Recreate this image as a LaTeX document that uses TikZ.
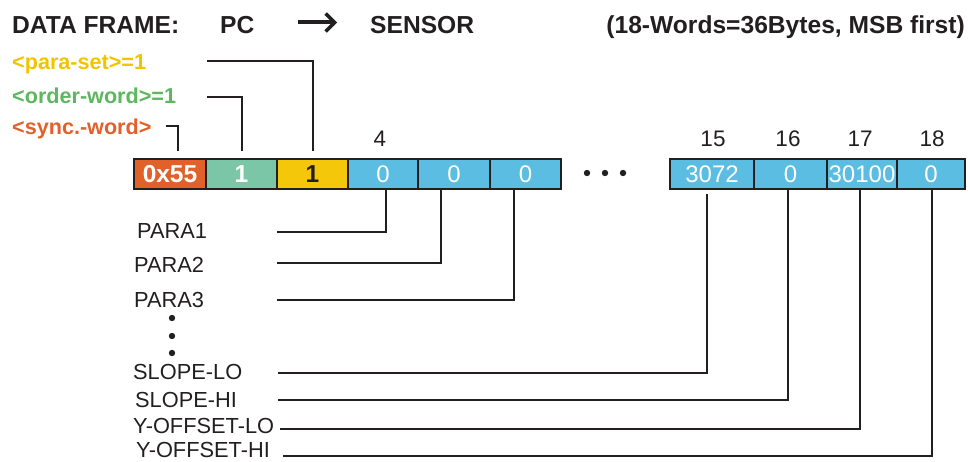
\documentclass[tikz,border=0pt]{standalone}
\usepackage{fontspec}
\setmainfont{Liberation Sans}
\usetikzlibrary{arrows.meta}
\definecolor{txt}{HTML}{231F20}
\definecolor{orgbox}{HTML}{E0622A}
\definecolor{grnbox}{HTML}{7CC6A8}
\definecolor{ylwbox}{HTML}{F5C70A}
\definecolor{blubox}{HTML}{5CBDE3}
\definecolor{ylwtxt}{HTML}{F3C300}
\definecolor{grntxt}{HTML}{5DB75F}
\definecolor{orgtxt}{HTML}{E2612A}
\begin{document}
\begin{tikzpicture}[x=1pt,y=-1pt,
  cell/.style={draw=txt, line width=2.8pt, minimum height=30pt, inner sep=0pt,
    font=\fontsize{24}{24}\selectfont, text=white},
  bluecell/.style={cell, fill=blubox},
  ttl/.style={anchor=base west, inner sep=0pt, text=txt, font=\fontsize{24.6}{24.6}\selectfont\bfseries},
  clab/.style={anchor=base west, inner sep=0pt, font=\fontsize{21.6}{21.6}\selectfont\bfseries},
  plab/.style={anchor=base west, inner sep=0pt, text=txt, font=\fontsize{21.8}{21.8}\selectfont},
  num/.style={anchor=base, inner sep=0pt, text=txt, font=\fontsize{22.5}{22.5}\selectfont},
  conn/.style={draw=txt, line width=1.4pt},
  dotm/.style={fill=txt, draw=none}
]
\useasboundingbox (0,0) rectangle (968,462);

% title
\node[ttl] (t1) at (12,33.3) {DATA FRAME:};
\node[ttl] (t2) at (220,33.3) {PC};
\node[ttl] (t3) at (370,33.3) {SENSOR};
\node[ttl, anchor=base east] (t4) at (965,33.3) {(18-Words=36Bytes, MSB first)};
\coordinate (arA) at (298,22.5);
\coordinate (arB) at (337,22.5);
\draw[txt, line width=4pt, -{Straight Barb[length=9pt,width=18pt,line width=3.4pt]}] (arA) -- (arB);

% coloured labels
\node[clab, text=ylwtxt] (lps) at (12,69.3) {<para-set>=1};
\node[clab, text=grntxt] (low) at (12,103.3) {<order-word>=1};
\node[clab, text=orgtxt] (lsw) at (12,135) {<sync.-word>};

% boxes
\node[cell, fill=orgbox, minimum width=72pt, font=\fontsize{24.5}{24.5}\selectfont\bfseries] (b1) at (170,174) {0x55};
\node[cell, fill=grnbox, minimum width=71pt, font=\fontsize{24.5}{24.5}\selectfont\bfseries] (b2) at (241.5,174) {1};
\node[cell, fill=ylwbox, minimum width=71pt, text=txt, font=\fontsize{24.5}{24.5}\selectfont\bfseries] (b3) at (312.5,174) {1};
\node[bluecell, minimum width=70pt] (b4) at (383,174) {0};
\node[bluecell, minimum width=72pt] (b5) at (454,174) {0};
\node[bluecell, minimum width=71pt] (b6) at (525.5,174) {0};
\node[bluecell, minimum width=84pt] (b15) at (712,174) {3072};
\node[bluecell, minimum width=73pt] (b16) at (790.5,174) {0};
\node[bluecell, minimum width=70pt] (b17) at (862,174) {30100};
\node[bluecell, minimum width=68pt] (b18) at (931,174) {0};

% horizontal dots
\fill[dotm] (587,173) circle (3.2pt) (605,173) circle (3.2pt) (623,173) circle (3.2pt);

% numbers above
\node[num] (n4) at (380,146.7) {4};
\node[num] (n15) at (713,146.7) {15};
\node[num] (n16) at (788,146.7) {16};
\node[num] (n17) at (860,146.7) {17};
\node[num] (n18) at (932,146.7) {18};

% upper connectors
\coordinate (cps) at (207,61);
\coordinate (cow) at (207,97);
\coordinate (csw) at (166,126);
\draw[conn] (cps) -| ([xshift=0.5pt,yshift=7pt]b3.north);
\draw[conn] (cow) -| ([xshift=0.5pt,yshift=7pt]b2.north);
\draw[conn] (csw) -| ([xshift=8pt,yshift=7pt]b1.north);

% lower labels
\node[plab] (p1) at (137,238.3) {PARA1};
\node[plab] (p2) at (134,272.3) {PARA2};
\node[plab] (p3) at (134,307.3) {PARA3};
\fill[dotm] (172,318) circle (3.2pt) (172,336) circle (3.2pt) (172,353) circle (3.2pt);
\node[plab] (s1) at (133,379.3) {SLOPE-LO};
\node[plab] (s2) at (135,407.3) {SLOPE-HI};
\node[plab] (y1) at (133,433.3) {Y-OFFSET-LO};
\node[plab] (y2) at (136,457) {Y-OFFSET-HI};

% lower connectors
\coordinate (cp1) at (277,232);
\coordinate (cp2) at (277,263);
\coordinate (cp3) at (277,300);
\coordinate (cs1) at (278,373);
\coordinate (cs2) at (278,400);
\coordinate (cy1) at (280,429);
\coordinate (cy2) at (283,456);
\draw[conn] (cp1) -| ([xshift=3pt]b4.south);
\draw[conn] (cp2) -| ([xshift=-13pt]b5.south);
\draw[conn] (cp3) -| ([xshift=-11.5pt]b6.south);
\draw[conn] (cs1) -| ([xshift=-5pt,yshift=-4pt]b15.south);
\draw[conn] (cs2) -| ([xshift=-2.5pt]b16.south);
\draw[conn] (cy1) -| ([xshift=-2pt]b17.south);
\draw[conn] (cy2) -| ([xshift=1pt]b18.south);
\end{tikzpicture}
\end{document}
